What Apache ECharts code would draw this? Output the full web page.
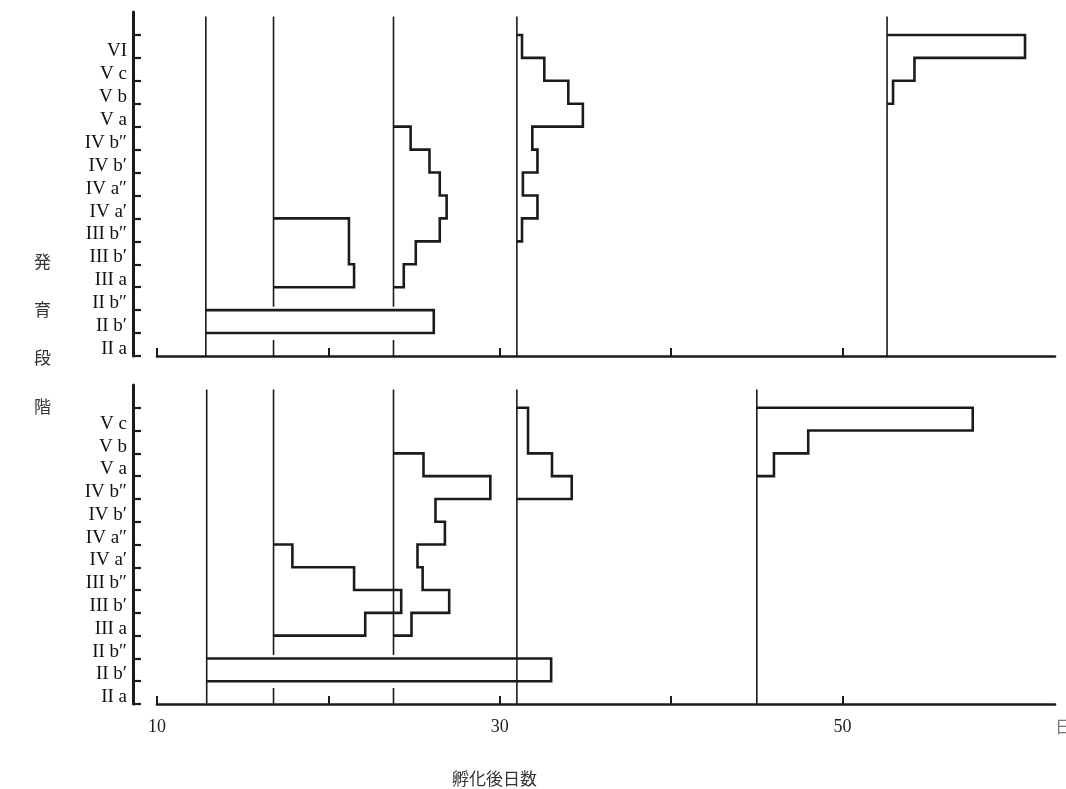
<!DOCTYPE html>
<html>
<head>
<meta charset="utf-8">
<script src="https://cdn.jsdelivr.net/npm/echarts@6/dist/echarts.min.js"></script>
<style>
  html, body { margin: 0; padding: 0; background: #fff; }
  #main { width: 1066px; height: 789px; }
</style>
</head>
<body>
<div id="main"></div>
<script>
// 発育段階 (下から)
var stagesTop = ['II a', 'II b′', 'II b″', 'III a', 'III b′', 'III b″', 'IV a′', 'IV a″', 'IV b′', 'IV b″', 'V a', 'V b', 'V c', 'VI'];
var stagesBottom = stagesTop.slice(0, 13);

var xTicks = [10, 20, 30, 40, 50];
var xLabels = [10, 30, 50];

// 上段: 採集日, 最下段の段階 index, 各段階の幅 (日数軸の単位)
var topDays = [12.85, 16.8, 23.8, 31.0, 52.6];
var topStart = [1, 3, 3, 5, 11];
var topWidths = [
    [13.3],
    [4.7, 4.4, 4.4],
    [0.6, 1.3, 2.7, 3.1, 2.7, 2.1, 1.0],
    [0.3, 1.2, 0.35, 1.2, 0.9, 3.85, 3.0, 1.6, 0.3],
    [0.35, 1.6, 8.05]
];
var topBroken = [false, true, true, false, false];

// 下段
var bottomDays = [12.9, 16.8, 23.8, 31.0, 45.0];
var bottomStart = [1, 3, 3, 9, 10];
var bottomWidths = [
    [20.1],
    [5.35, 7.45, 4.7, 1.1],
    [1.05, 3.25, 1.7, 1.4, 3.0, 2.45, 5.65, 1.75],
    [3.2, 2.05, 0.65, 0.65],
    [1.0, 3.0, 12.6]
];
var bottomBroken = [false, true, true, false, false];

var INK = '#1b1b1b';
var SERIF = '"Liberation Serif", "DejaVu Serif", serif';

function profile(x0, start, widths) {
    var pts = [[x0, start]];
    widths.forEach(function (w, i) {
        pts.push([x0 + w, start + i]);
        pts.push([x0 + w, start + i + 1]);
    });
    pts.push([x0, start + widths.length]);
    return pts;
}

function range(a, b) {
    var r = [];
    for (var i = a; i <= b; i++) r.push(i);
    return r;
}

var series = [];
function addPanel(idx, days, starts, widths, broken, lineTop) {
    days.forEach(function (d, i) {
        var segs = broken[i] ? [[0, 0.7], [2.15, lineTop]] : [[0, lineTop]];
        segs.forEach(function (s) {
            series.push({
                type: 'line', xAxisIndex: idx, yAxisIndex: idx,
                data: [[d, s[0]], [d, s[1]]],
                symbol: 'none', silent: true, animation: false,
                lineStyle: { color: INK, width: 1.6 }
            });
        });
        series.push({
            type: 'line', xAxisIndex: idx, yAxisIndex: idx,
            data: profile(d, starts[i], widths[i]),
            symbol: 'none', silent: true, animation: false,
            lineStyle: { color: INK, width: 2.6, join: 'miter' }
        });
    });
}
addPanel(0, topDays, topStart, topWidths, topBroken, 14.8);
addPanel(1, bottomDays, bottomStart, bottomWidths, bottomBroken, 13.8);

function xAxisCfg(idx, showLabels) {
    return {
        type: 'value', gridIndex: idx, min: 10, max: 62.4,
        axisLine: { show: true, onZero: false, lineStyle: { color: INK, width: 2.6 } },
        axisTick: { show: true, inside: true, length: 8, customValues: xTicks, lineStyle: { color: INK, width: 2 } },
        axisLabel: { show: showLabels, customValues: xLabels, margin: 14, color: '#222', fontFamily: SERIF, fontSize: 18 },
        splitLine: { show: false }
    };
}
function yAxisCfg(idx, stages, max) {
    // 各段階の名前は帯の下寄りに置く
    var labelPos = range(0, stages.length - 1).map(function (v) { return v + 0.3; });
    return {
        type: 'value', gridIndex: idx, min: 0, max: max, interval: 1, offset: 24,
        axisLine: { show: true, onZero: false, lineStyle: { color: INK, width: 3 } },
        axisTick: { show: true, inside: true, length: 8, customValues: range(0, stages.length), lineStyle: { color: INK, width: 2.2 } },
        axisLabel: {
            customValues: labelPos,
            formatter: function (v) { return stages[Math.round(v - 0.3)]; },
            verticalAlign: 'middle', margin: 6,
            color: '#111', fontFamily: SERIF, fontSize: 19
        },
        splitLine: { show: false }
    };
}

var chart = echarts.init(document.getElementById('main'));
chart.setOption({
    backgroundColor: '#fff',
    animation: false,
    grid: [
        { left: 157, top: 12, width: 898, height: 344 },
        { left: 157, top: 385, width: 898, height: 319 }
    ],
    xAxis: [xAxisCfg(0, false), xAxisCfg(1, true)],
    yAxis: [yAxisCfg(0, stagesTop, 15), yAxisCfg(1, stagesBottom, 14)],
    series: series,
    graphic: [
        {
            type: 'text', left: 34, top: 237,
            style: { text: '発\n育\n段\n階', fontSize: 17, lineHeight: 48.3, fill: '#333', fontFamily: '"Noto Sans CJK JP"' }
        },
        {
            type: 'text', left: 452, top: 770,
            style: { text: '孵化後日数', fontSize: 17, fill: '#333', fontFamily: '"Noto Sans CJK JP"' }
        },
        {
            type: 'text', left: 1055, top: 718,
            style: { text: '日', fontSize: 17, fill: '#777', fontFamily: '"Noto Sans CJK JP"' }
        }
    ]
});
</script>
</body>
</html>
